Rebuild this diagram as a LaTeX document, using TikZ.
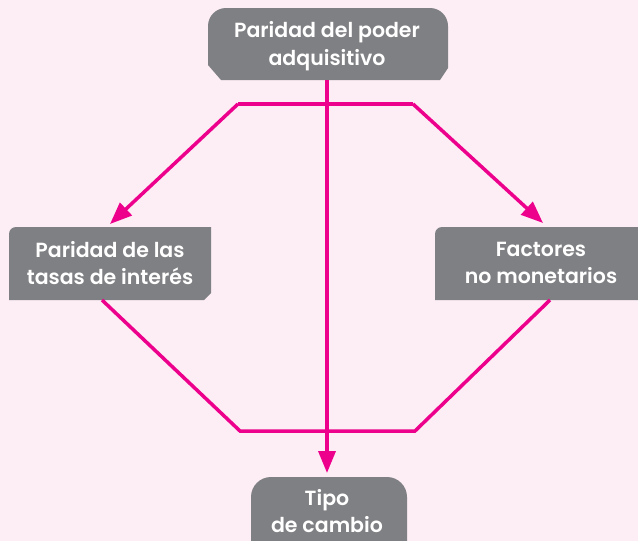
\documentclass[tikz,border=0pt]{standalone}
\usepackage{fontspec}
\setmainfont{Poppins}[BoldFont={Poppins SemiBold}]
\usetikzlibrary{arrows.meta}
\definecolor{bgpink}{HTML}{FDEDF5}
\definecolor{boxgray}{HTML}{7F8083}
\definecolor{mag}{HTML}{EC008C}
\tikzset{
  boxshape/.style={fill=boxgray, draw=none},
  boxtext/.style={text=white, font=\bfseries\fontsize{20.5}{27.5}\selectfont, align=center, inner sep=0pt},
  link/.style={draw=mag, line width=3.5pt},
  arr/.style={link, -{Triangle[length=22pt,width=17pt]}}
}
\begin{document}
\begin{tikzpicture}[x=1pt,y=-1pt]
\fill[bgpink] (0,0) rectangle (638,541);
\useasboundingbox (0,0) rectangle (638,541);
% top box
\fill[boxgray] (208,65) -- (208,26) arc[start angle=180,end angle=270,radius=18] -- (430,8) arc[start angle=270,end angle=360,radius=18] -- (448,68) -- (440,80) -- (221,80) -- cycle;
% left box
\fill[boxgray] (9,300) -- (9,234) arc[start angle=180,end angle=270,radius=7] -- (211,227) -- (211,293) -- (204,300) -- cycle;
% right box
\fill[boxgray] (435,300) -- (435,234) arc[start angle=180,end angle=270,radius=7] -- (640,227) -- (640,300) -- cycle;
% bottom box
\fill[boxgray] (251,545) -- (251,497) arc[start angle=180,end angle=270,radius=20] -- (387,477) arc[start angle=270,end angle=360,radius=20] -- (407,545) -- cycle;
% texts
\node[boxtext] (ppa) at (327,46) {Paridad del poder\\adquisitivo};
\node[boxtext] (pti) at (110,263) {Paridad de las\\tasas de interés};
\node[boxtext] (fnm) at (541,263) {Factores\\no monetarios};
\node[boxtext] (tc) at (327,511) {Tipo\\de cambio};
% connector points
\coordinate (ppaS) at (327,80);
\coordinate (tcN) at (327,473);
\coordinate (tl) at (238,104);
\coordinate (tr) at (413,104);
\coordinate (ptiN) at (110,224);
\coordinate (fnmN) at (543,223);
\coordinate (ptiS) at (102,300);
\coordinate (fnmS) at (550,300);
\coordinate (bl) at (240,431);
\coordinate (br) at (415,431);
% connectors
\draw[link, line join=miter] (ptiS) -- (bl) -- (br) -- (fnmS);
\draw[link] (tl) -- (tr);
\draw[arr] (tl) -- (ptiN);
\draw[arr] (tr) -- (fnmN);
\draw[arr] (ppaS) -- (tcN);
\end{tikzpicture}
\end{document}
